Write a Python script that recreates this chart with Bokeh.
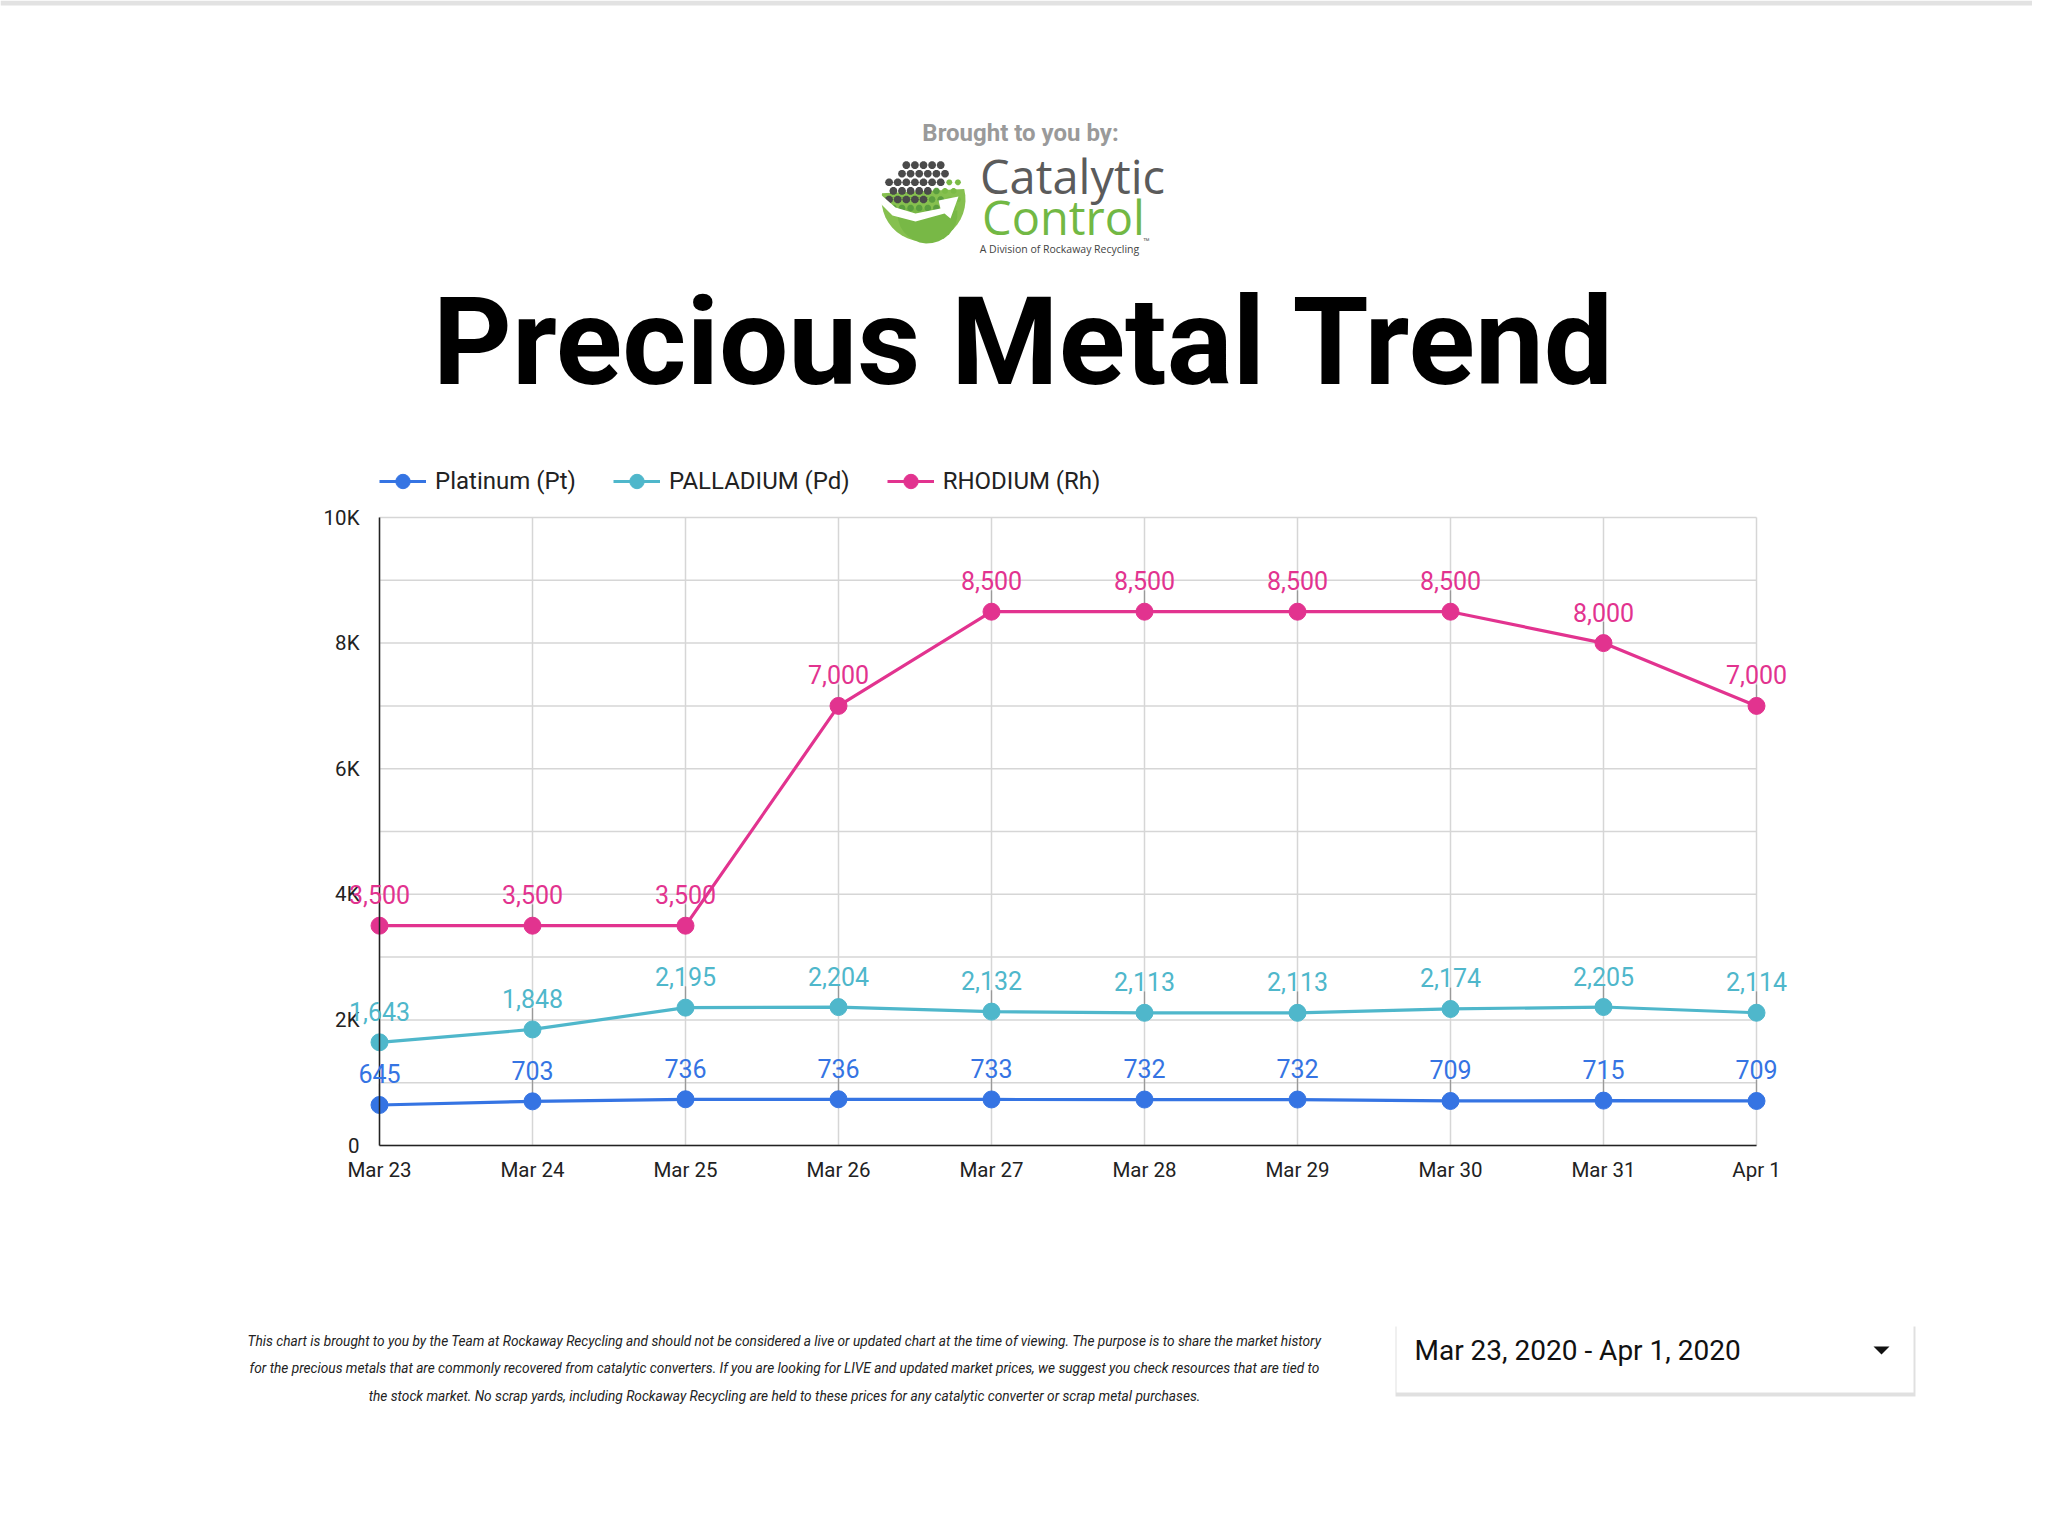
import math
from bokeh.plotting import figure
from bokeh.models import (Range1d, FixedTicker, Label, LabelSet, ColumnDataSource,
                          Legend, LegendItem, BoxAnnotation, PolyAnnotation)
from bokeh.core.properties import value
from bokeh.embed import file_html
from bokeh.resources import INLINE

# ---------------- data ----------------
dates = ["Mar 23", "Mar 24", "Mar 25", "Mar 26", "Mar 27",
         "Mar 28", "Mar 29", "Mar 30", "Mar 31", "Apr 1"]
platinum = [645, 703, 736, 736, 733, 732, 732, 709, 715, 709]
palladium = [1643, 1848, 2195, 2204, 2132, 2113, 2113, 2174, 2205, 2114]
rhodium = [3500, 3500, 3500, 7000, 8500, 8500, 8500, 8500, 8000, 7000]
series_names = ["Platinum (Pt)", "PALLADIUM (Pd)", "RHODIUM (Rh)"]
series_colors = ["#3574e3", "#4fb7cb", "#e2338f"]
y_ticks = [0, 2000, 4000, 6000, 8000, 10000]
y_tick_labels = ["0", "2K", "4K", "6K", "8K", "10K"]
y_minor_ticks = [1000, 3000, 5000, 7000, 9000]
date_range_text = "Mar 23, 2020 - Apr 1, 2020"
footnote_lines = [
    "This chart is brought to you by the Team at Rockaway Recycling and should not be considered a live or updated chart at the time of viewing. The purpose is to share the market history",
    "for the precious metals that are commonly recovered from catalytic converters. If you are looking for LIVE and updated market prices, we suggest you check resources that are tied to",
    "the stock market. No scrap yards, including Rockaway Recycling are held to these prices for any catalytic converter or scrap metal purchases.",
]

# ---------------- layout (reference pixels) ----------------
W, H = 2032, 1515
FL, FR, FT, FB = 379, 1756, 517, 1145   # chart area in reference pixels
X0, X1 = 0, len(dates) - 1
Y0, Y1 = 0, 10000
px_x = (FR - FL) / (X1 - X0)
px_y = (FB - FT) / (Y1 - Y0)
x_start = X0 - FL / px_x
x_end = X1 + (W - FR) / px_x
y_start = Y0 - (H - FB) / px_y
y_end = Y1 + FT / px_y


def sx(rx):
    return rx


def sy(ry):
    return H - ry


p = figure(width=W, height=H, output_backend="svg", toolbar_location=None,
           x_range=Range1d(x_start, x_end), y_range=Range1d(y_start, y_end),
           min_border=0, min_border_left=0, min_border_right=0,
           min_border_top=0, min_border_bottom=0,
           background_fill_color="white", border_fill_color="white")
p.outline_line_color = None
p.xgrid.visible = False
p.ygrid.visible = False

# axes at the chart area's edges
p.xaxis.fixed_location = Y0
p.yaxis.fixed_location = X0
p.xaxis.bounds = (X0, X1)
p.yaxis.bounds = (Y0, Y1)
p.xaxis.ticker = FixedTicker(ticks=list(range(len(dates))))
p.xaxis.major_label_overrides = {i: d for i, d in enumerate(dates)}
p.yaxis.ticker = FixedTicker(ticks=y_ticks, minor_ticks=y_minor_ticks)
p.yaxis.major_label_overrides = {t: l for t, l in zip(y_ticks, y_tick_labels)}
for ax in (p.xaxis[0], p.yaxis[0]):
    ax.axis_line_color = "#222222"
    ax.axis_line_width = 1.5
    ax.major_tick_line_color = None
    ax.minor_tick_line_color = None
    ax.major_label_text_font = "Roboto"
    ax.major_label_text_font_size = "20.5px"
    ax.major_label_text_color = "#222222"
p.yaxis.major_label_standoff = 14
p.xaxis.major_label_standoff = 6

# grid lines limited to the chart area
grid_y = sorted(y_ticks + y_minor_ticks)
p.segment(x0=[X0] * len(grid_y), x1=[X1] * len(grid_y), y0=grid_y, y1=grid_y,
          line_color="#d6d6d6", line_width=1.5)
p.segment(x0=list(range(len(dates))), x1=list(range(len(dates))),
          y0=[Y0] * len(dates), y1=[Y1] * len(dates), line_color="#d6d6d6", line_width=1.5)

# series
xs = list(range(len(dates)))
LEADER = 340
legend_items = []
for name, vals, col in zip(series_names, [platinum, palladium, rhodium], series_colors):
    src = ColumnDataSource(dict(x=xs, y=vals, top=[v + LEADER for v in vals],
                                txt=[f"{v:,}" for v in vals]))
    p.segment(x0="x", y0="y", x1="x", y1="top", source=src, line_color="#9a9a9a", line_width=1.3)
    lr = p.line("x", "y", source=src, line_color=col, line_width=3.2)
    sr = p.scatter("x", "y", source=src, size=17, fill_color=col, line_color=col)
    p.add_layout(LabelSet(x="x", y="y", text="txt", source=src, y_offset=31,
                          text_align="center", text_baseline="middle",
                          text_font=value("Roboto"), text_font_size=value("25px"),
                          text_color=col))
    legend_items.append(LegendItem(label=name, renderers=[lr, sr]))

legend = Legend(items=legend_items, orientation="horizontal",
                location=(sx(FL), sy(499)),
                glyph_width=47, glyph_height=36, label_height=36, label_standoff=9,
                spacing=37, padding=0, margin=0, border_line_color=None,
                background_fill_alpha=0, label_text_font="Roboto",
                label_text_font_size="24px", label_text_color="#222222")
p.add_layout(legend)


def lab(rx, ry, text, size, color="#000000", font="Roboto", style="normal",
        align="center", baseline="middle"):
    p.add_layout(Label(x=sx(rx), y=sy(ry), x_units="screen", y_units="screen", text=text,
                       text_font=font, text_font_size=size, text_font_style=style,
                       text_color=color, text_align=align, text_baseline=baseline))


# page top edge
p.add_layout(BoxAnnotation(left=sx(0), right=sx(W), top=sy(0), bottom=sy(5),
                           left_units="screen", right_units="screen", top_units="screen",
                           bottom_units="screen", fill_color="#e2e2e2", fill_alpha=1.0,
                           line_color=None))

# ---------------- header ----------------
lab(1020, 132, "Brought to you by:", "24px", color="#9a9a9a", style="bold")

# logo globe (decorative)
gcx, gcy, gr = 923, 199, 42


def circ_pts(cx, cy, r, a0, a1, n):
    pts = []
    for k in range(n + 1):
        a = a0 + (a1 - a0) * k / n
        pts.append((cx + r * math.cos(a), cy + r * math.sin(a)))
    return pts


def poly(pts, color, alpha=1.0):
    p.add_layout(PolyAnnotation(xs=[sx(a) for a, b in pts], ys=[sy(b) for a, b in pts],
                                xs_units="screen", ys_units="screen",
                                fill_color=color, fill_alpha=alpha, line_color=None))


poly(circ_pts(gcx, gcy, gr, -0.25, math.pi + 0.15, 24), "#86c04f")
poly(circ_pts(gcx + 4, gcy + 14, 30, -0.1, math.pi + 0.2, 16), "#78b846")
step = 8.6
for iy in range(-5, 2):
    for ix in range(-5, 6):
        dx = ix * step + (iy % 2) * step / 2
        dy = iy * step
        if math.hypot(dx, dy) > gr - 3:
            continue
        if dx + 0.8 * dy < 4 and dy < 4:
            c, r = "#4a4a4a", 4.0
        elif dx < 18:
            c, r = "#5b9e3f", 3.4
        else:
            c, r = "#7bbb46", 3.0
        poly(circ_pts(gcx + dx, gcy + dy, r, 0, 2 * math.pi, 10), c)
sw = [(879, 193), (895, 207), (915, 213), (940, 208), (938, 200), (958, 196),
      (950, 218), (944, 213), (915, 221), (892, 215), (878, 201)]
poly(sw, "#ffffff")

lab(1072, 175, "Catalytic", "47px", color="#5b5b5b", font="Open Sans")
lab(1063, 216, "Control", "47px", color="#72b844", font="Open Sans")
lab(1146, 240, "\u2122", "8px", color="#555555", font="Open Sans")
lab(1059, 248, "A Division of Rockaway Recycling", "10.5px", color="#444444", font="Open Sans")

lab(1024, 341, "Precious Metal Trend", "123px", style="bold")

# ---------------- footer ----------------
for i, line in enumerate(footnote_lines):
    lab(784, [1340, 1367, 1395][i], line, "13.7px", color="#222222", style="italic")

# date range control
p.add_layout(BoxAnnotation(left=sx(1395), right=sx(1915), top=sy(1326), bottom=sy(1396),
                           left_units="screen", right_units="screen", top_units="screen",
                           bottom_units="screen", fill_color="#000000", fill_alpha=0.12,
                           line_color=None))
p.add_layout(BoxAnnotation(left=sx(1396), right=sx(1913), top=sy(1325), bottom=sy(1392),
                           left_units="screen", right_units="screen", top_units="screen",
                           bottom_units="screen", fill_color="#ffffff", fill_alpha=1.0,
                           line_color=None))
lab(1414, 1350, date_range_text, "28px", color="#111111", align="left")
poly([(1873, 1346), (1889, 1346), (1881, 1354)], "#111111")

open("out.html", "w").write(file_html(p, INLINE))
